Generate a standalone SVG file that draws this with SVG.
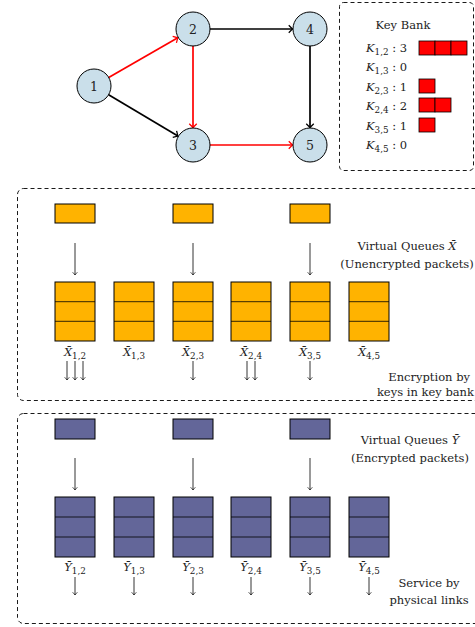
<svg xmlns="http://www.w3.org/2000/svg" width="475" height="627" viewBox="0 0 475 627">
<defs>
<style>
text{font-family:"DejaVu Serif","Liberation Serif",serif;font-size:11.5px;fill:#222}
.m{font-style:italic}
.s{font-size:8.8px}
.nt{font-size:12.5px}
.node{fill:#CADFEA;stroke:#000;stroke-width:1}
.e{fill:none;stroke-width:1.7}
.blk{stroke:#000}
.red{stroke:#FF0000}
.box{fill:none;stroke:#000;stroke-width:0.9;stroke-dasharray:4 3}
.q1{fill:#FFB300;stroke:#000;stroke-width:1}
.q2{fill:#636699;stroke:#000;stroke-width:1}
.key{fill:#FF0000;stroke:#000;stroke-width:0.8}
.da{stroke:#000;stroke-width:0.8;fill:none}
</style>
<marker id="hb" markerWidth="10" markerHeight="10" refX="0" refY="0" viewBox="-6 -6 10 12" markerUnits="userSpaceOnUse" orient="auto" overflow="visible">
<path d="M-4.5,-4.5 Q-1,-1 0,0 Q-1,1 -4.5,4.5" fill="none" stroke="#000" stroke-width="1.5"/>
</marker>
<marker id="hr" markerWidth="10" markerHeight="10" refX="0" refY="0" viewBox="-6 -6 10 12" markerUnits="userSpaceOnUse" orient="auto" overflow="visible">
<path d="M-4.5,-4.5 Q-1,-1 0,0 Q-1,1 -4.5,4.5" fill="none" stroke="#FF0000" stroke-width="1.5"/>
</marker>
<marker id="hs" markerWidth="8" markerHeight="8" refX="0" refY="0" viewBox="-5 -5 8 10" markerUnits="userSpaceOnUse" orient="auto" overflow="visible">
<path d="M-3.5,-3 Q-0.8,-0.6 0,0 Q-0.8,0.6 -3.5,3" fill="none" stroke="#000" stroke-width="0.8"/>
</marker>
</defs>
<rect width="475" height="627" fill="#fff"/>

<g id="connectors">
<line class="e red" x1="108.7" y1="77.5" x2="177.8" y2="37.8" marker-end="url(#hr)"/>
<line class="e blk" x1="108.6" y1="94.7" x2="177.9" y2="136" marker-end="url(#hb)"/>
<line class="e blk" x1="210" y1="29" x2="292.5" y2="29" marker-end="url(#hb)"/>
<line class="e red" x1="193" y1="46" x2="193" y2="127.5" marker-end="url(#hr)"/>
<line class="e blk" x1="310" y1="46" x2="310" y2="127.5" marker-end="url(#hb)"/>
<line class="e red" x1="210" y1="145" x2="292.5" y2="145" marker-end="url(#hr)"/>
</g>

<g id="n1"><circle class="node" cx="94" cy="86" r="17"/><text class="nt" x="94" y="90.5" text-anchor="middle">1</text></g>
<g id="n2"><circle class="node" cx="193" cy="29" r="17"/><text class="nt" x="193" y="33.5" text-anchor="middle">2</text></g>
<g id="n3"><circle class="node" cx="193" cy="145" r="17"/><text class="nt" x="193" y="149.5" text-anchor="middle">3</text></g>
<g id="n4"><circle class="node" cx="310" cy="29" r="17"/><text class="nt" x="310" y="33.5" text-anchor="middle">4</text></g>
<g id="n5"><circle class="node" cx="310" cy="145" r="17"/><text class="nt" x="310" y="149.5" text-anchor="middle">5</text></g>

<g id="keybank">
<rect class="box" x="339.5" y="2.5" width="134" height="168" rx="4"/>
<text x="403" y="29" text-anchor="middle">Key Bank</text>
<text x="366" y="52"><tspan class="m">K</tspan><tspan class="s" dy="3">1,2</tspan><tspan dy="-3"> : 3</tspan></text>
<text x="366" y="71"><tspan class="m">K</tspan><tspan class="s" dy="3">1,3</tspan><tspan dy="-3"> : 0</tspan></text>
<text x="366" y="91"><tspan class="m">K</tspan><tspan class="s" dy="3">2,3</tspan><tspan dy="-3"> : 1</tspan></text>
<text x="366" y="110"><tspan class="m">K</tspan><tspan class="s" dy="3">2,4</tspan><tspan dy="-3"> : 2</tspan></text>
<text x="366" y="130"><tspan class="m">K</tspan><tspan class="s" dy="3">3,5</tspan><tspan dy="-3"> : 1</tspan></text>
<text x="366" y="149"><tspan class="m">K</tspan><tspan class="s" dy="3">4,5</tspan><tspan dy="-3"> : 0</tspan></text>
<rect class="key" x="419" y="41" width="16" height="14"/>
<rect class="key" x="435" y="41" width="16" height="14"/>
<rect class="key" x="451" y="41" width="16" height="14"/>
<rect class="key" x="419" y="79" width="16" height="14"/>
<rect class="key" x="419" y="98" width="16" height="14"/>
<rect class="key" x="435" y="98" width="16" height="14"/>
<rect class="key" x="419" y="118" width="16" height="14"/>
</g>

<g id="sectionX">
<rect class="box" x="17.5" y="188.5" width="470" height="212" rx="6"/>
<rect class="q1" x="55" y="204" width="40" height="19"/>
<rect class="q1" x="173" y="204" width="40" height="19"/>
<rect class="q1" x="290" y="204" width="40" height="19"/>
<line class="da" x1="75" y1="243" x2="75" y2="275" marker-end="url(#hs)"/>
<line class="da" x1="193" y1="243" x2="193" y2="275" marker-end="url(#hs)"/>
<line class="da" x1="310" y1="243" x2="310" y2="275" marker-end="url(#hs)"/>
<g>
<rect class="q1" x="55" y="282" width="40" height="59"/><line class="da" x1="55" y1="301.7" x2="95" y2="301.7"/><line class="da" x1="55" y1="321.3" x2="95" y2="321.3"/>
<rect class="q1" x="114" y="282" width="40" height="59"/><line class="da" x1="114" y1="301.7" x2="154" y2="301.7"/><line class="da" x1="114" y1="321.3" x2="154" y2="321.3"/>
<rect class="q1" x="173" y="282" width="40" height="59"/><line class="da" x1="173" y1="301.7" x2="213" y2="301.7"/><line class="da" x1="173" y1="321.3" x2="213" y2="321.3"/>
<rect class="q1" x="231" y="282" width="40" height="59"/><line class="da" x1="231" y1="301.7" x2="271" y2="301.7"/><line class="da" x1="231" y1="321.3" x2="271" y2="321.3"/>
<rect class="q1" x="290" y="282" width="40" height="59"/><line class="da" x1="290" y1="301.7" x2="330" y2="301.7"/><line class="da" x1="290" y1="321.3" x2="330" y2="321.3"/>
<rect class="q1" x="349" y="282" width="40" height="59"/><line class="da" x1="349" y1="301.7" x2="389" y2="301.7"/><line class="da" x1="349" y1="321.3" x2="389" y2="321.3"/>
</g>
<text x="75" y="356" text-anchor="middle"><tspan class="m">X̄</tspan><tspan class="s" dy="3">1,2</tspan></text>
<text x="134" y="356" text-anchor="middle"><tspan class="m">X̄</tspan><tspan class="s" dy="3">1,3</tspan></text>
<text x="193" y="356" text-anchor="middle"><tspan class="m">X̄</tspan><tspan class="s" dy="3">2,3</tspan></text>
<text x="251" y="356" text-anchor="middle"><tspan class="m">X̄</tspan><tspan class="s" dy="3">2,4</tspan></text>
<text x="310" y="356" text-anchor="middle"><tspan class="m">X̄</tspan><tspan class="s" dy="3">3,5</tspan></text>
<text x="369" y="356" text-anchor="middle"><tspan class="m">X̄</tspan><tspan class="s" dy="3">4,5</tspan></text>
<line class="da" x1="67" y1="361" x2="67" y2="380" marker-end="url(#hs)"/>
<line class="da" x1="75" y1="361" x2="75" y2="380" marker-end="url(#hs)"/>
<line class="da" x1="83" y1="361" x2="83" y2="380" marker-end="url(#hs)"/>
<line class="da" x1="193" y1="361" x2="193" y2="380" marker-end="url(#hs)"/>
<line class="da" x1="247" y1="361" x2="247" y2="380" marker-end="url(#hs)"/>
<line class="da" x1="255" y1="361" x2="255" y2="380" marker-end="url(#hs)"/>
<line class="da" x1="310" y1="361" x2="310" y2="380" marker-end="url(#hs)"/>
<text x="407" y="250" text-anchor="middle">Virtual Queues <tspan class="m">X̄</tspan></text>
<text x="407" y="268" text-anchor="middle">(Unencrypted packets)</text>
<text x="470" y="381" text-anchor="end">Encryption by</text>
<text x="474" y="396" text-anchor="end">keys in key bank</text>
</g>

<g id="sectionY">
<rect class="box" x="17.5" y="413.5" width="470" height="210" rx="6"/>
<rect class="q2" x="55" y="419" width="40" height="20"/>
<rect class="q2" x="173" y="419" width="40" height="20"/>
<rect class="q2" x="290" y="419" width="40" height="20"/>
<line class="da" x1="75" y1="458" x2="75" y2="490" marker-end="url(#hs)"/>
<line class="da" x1="193" y1="458" x2="193" y2="490" marker-end="url(#hs)"/>
<line class="da" x1="310" y1="458" x2="310" y2="490" marker-end="url(#hs)"/>
<g>
<rect class="q2" x="55" y="497" width="40" height="60"/><line class="da" x1="55" y1="517" x2="95" y2="517"/><line class="da" x1="55" y1="537" x2="95" y2="537"/>
<rect class="q2" x="114" y="497" width="40" height="60"/><line class="da" x1="114" y1="517" x2="154" y2="517"/><line class="da" x1="114" y1="537" x2="154" y2="537"/>
<rect class="q2" x="173" y="497" width="40" height="60"/><line class="da" x1="173" y1="517" x2="213" y2="517"/><line class="da" x1="173" y1="537" x2="213" y2="537"/>
<rect class="q2" x="231" y="497" width="40" height="60"/><line class="da" x1="231" y1="517" x2="271" y2="517"/><line class="da" x1="231" y1="537" x2="271" y2="537"/>
<rect class="q2" x="290" y="497" width="40" height="60"/><line class="da" x1="290" y1="517" x2="330" y2="517"/><line class="da" x1="290" y1="537" x2="330" y2="537"/>
<rect class="q2" x="349" y="497" width="40" height="60"/><line class="da" x1="349" y1="517" x2="389" y2="517"/><line class="da" x1="349" y1="537" x2="389" y2="537"/>
</g>
<text x="75" y="571" text-anchor="middle"><tspan class="m">Ȳ</tspan><tspan class="s" dy="3">1,2</tspan></text>
<text x="134" y="571" text-anchor="middle"><tspan class="m">Ȳ</tspan><tspan class="s" dy="3">1,3</tspan></text>
<text x="193" y="571" text-anchor="middle"><tspan class="m">Ȳ</tspan><tspan class="s" dy="3">2,3</tspan></text>
<text x="251" y="571" text-anchor="middle"><tspan class="m">Ȳ</tspan><tspan class="s" dy="3">2,4</tspan></text>
<text x="310" y="571" text-anchor="middle"><tspan class="m">Ȳ</tspan><tspan class="s" dy="3">3,5</tspan></text>
<text x="369" y="571" text-anchor="middle"><tspan class="m">Ȳ</tspan><tspan class="s" dy="3">4,5</tspan></text>
<line class="da" x1="75" y1="577" x2="75" y2="595" marker-end="url(#hs)"/>
<line class="da" x1="134" y1="577" x2="134" y2="595" marker-end="url(#hs)"/>
<line class="da" x1="193" y1="577" x2="193" y2="595" marker-end="url(#hs)"/>
<line class="da" x1="251" y1="577" x2="251" y2="595" marker-end="url(#hs)"/>
<line class="da" x1="310" y1="577" x2="310" y2="595" marker-end="url(#hs)"/>
<line class="da" x1="369" y1="577" x2="369" y2="595" marker-end="url(#hs)"/>
<text x="410" y="444" text-anchor="middle">Virtual Queues <tspan class="m">Ȳ</tspan></text>
<text x="410" y="462" text-anchor="middle">(Encrypted packets)</text>
<text x="429" y="587" text-anchor="middle">Service by</text>
<text x="429" y="604" text-anchor="middle">physical links</text>
</g>
</svg>
